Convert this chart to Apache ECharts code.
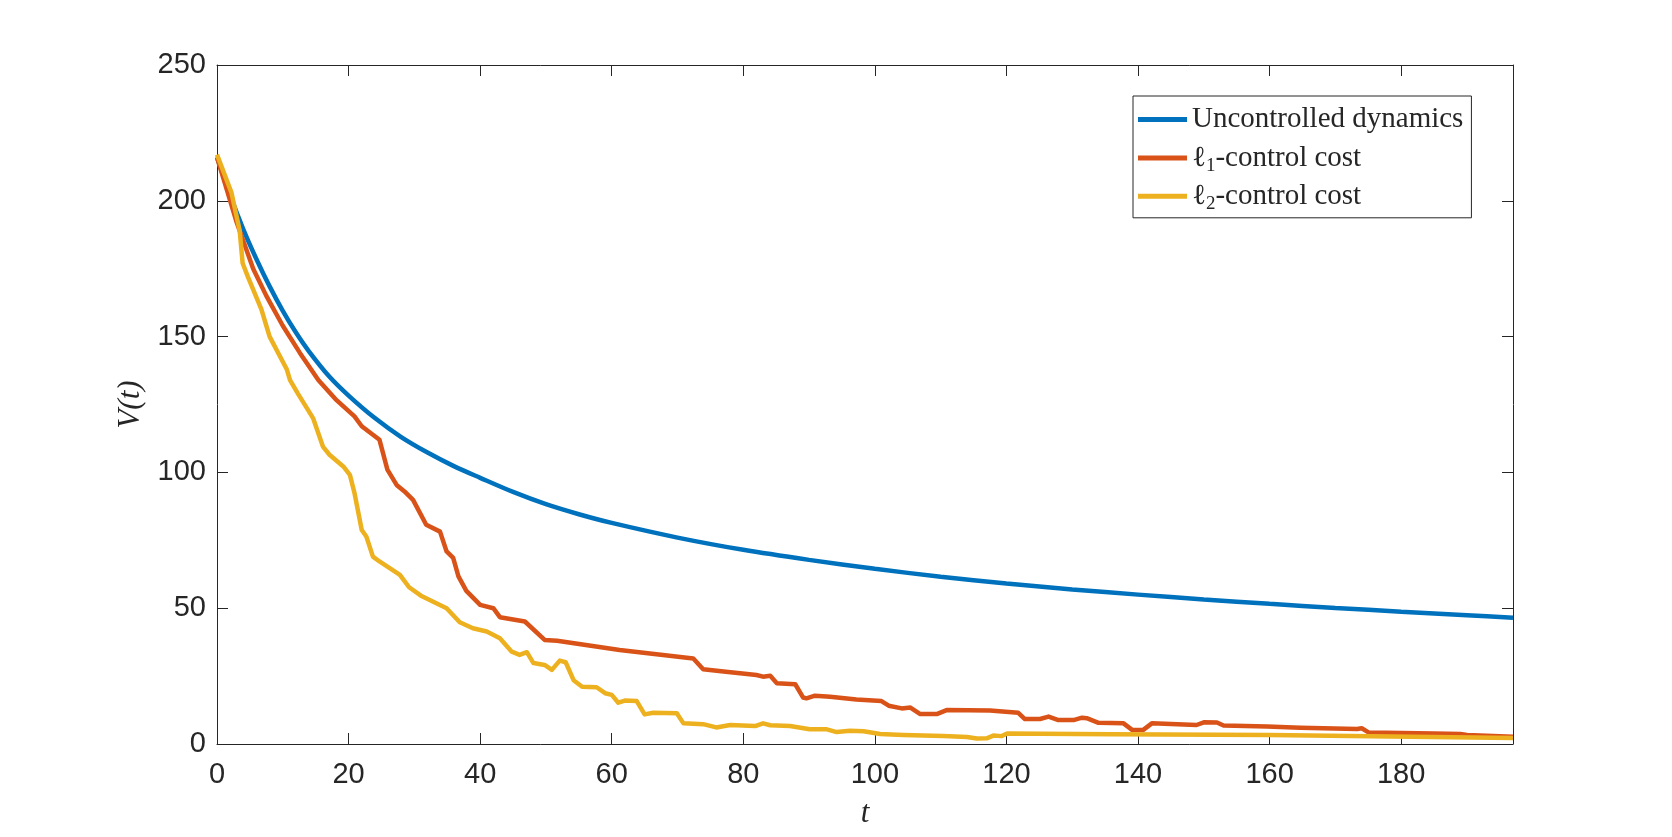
<!DOCTYPE html>
<html>
<head>
<meta charset="utf-8">
<script src="https://cdn.jsdelivr.net/npm/echarts@6/dist/echarts.min.js"></script>
<style>
html,body{margin:0;padding:0;background:#fff;}
#chart{width:1672px;height:837px;}
</style>
</head>
<body>
<div id="chart"></div>
<script>
// ---- data ----
const seriesNames = ['Uncontrolled dynamics', 'ℓ1-control cost', 'ℓ2-control cost'];
const xTicks = [0, 20, 40, 60, 80, 100, 120, 140, 160, 180];
const yTicks = [0, 50, 100, 150, 200, 250];

const uncT = [0, 2, 4, 6, 8, 10, 12, 14, 17, 20, 24, 28, 32, 36, 40, 45, 50, 55, 60, 70, 80, 90, 100, 110, 120, 130, 140, 150, 160, 170, 180, 190, 197];
const uncV = [216, 202, 189.5, 178.5, 168.5, 159.5, 151.5, 144.5, 135.5, 128.3, 120, 113, 107.3, 102.3, 98, 92.8, 88.3, 84.6, 81.4, 76, 71.5, 67.8, 64.5, 61.6, 59.1, 56.9, 55, 53.2, 51.6, 50.1, 48.7, 47.4, 46.5];

const l1T = [0, 1.5, 3, 5.5, 7.5, 10, 12.6, 15.4, 18, 20.9, 22, 24.7, 25.9, 27.3, 28.5, 29.8, 31.8, 33.9, 34.9, 35.9, 36.7, 37.9, 40, 42, 43, 46.8, 49.8, 51.7, 61.2, 72.4, 73.9, 77, 82, 83, 84.1, 85.1, 87.9, 89.1, 89.6, 90.9, 93.2, 97.2, 101, 102.1, 104.1, 105.4, 106.9, 109.4, 110.9, 117.5, 121.8, 122.8, 125.1, 126.4, 127.9, 130.2, 131.5, 132.2, 134, 137.8, 139.1, 140.8, 142.1, 148.9, 150, 152, 153, 159.6, 164.7, 173.3, 174, 175.1, 185, 189, 190, 197];
const l1V = [216, 204, 192, 175, 165, 154, 144, 134, 127, 120.6, 117, 112, 101, 95.4, 93, 89.9, 80.7, 78.2, 70.9, 68.5, 61.7, 56.4, 51.2, 50, 46.7, 45.1, 38.3, 38, 34.6, 31.5, 27.5, 26.7, 25.4, 24.8, 25.1, 22.4, 22, 17.1, 16.8, 17.8, 17.4, 16.4, 15.8, 14.1, 13.1, 13.4, 11, 11, 12.5, 12.3, 11.5, 9.2, 9.2, 10.1, 8.8, 8.8, 9.7, 9.5, 7.8, 7.6, 5.2, 5.2, 7.6, 7.0, 8.0, 7.9, 6.8, 6.4, 6.0, 5.5, 5.8, 4.2, 3.9, 3.7, 3.3, 2.7];

const l2T = [0, 2.2, 3.45, 3.9, 4.7, 6.75, 7.5, 8, 10.6, 11.1, 12.3, 14.6, 16.1, 17.1, 19.2, 20.2, 20.9, 22, 22.7, 23.7, 24.7, 27.8, 29.2, 31, 34.9, 36.9, 38.9, 41, 43, 44.8, 46, 47.1, 48.1, 49.8, 50.9, 52.1, 53, 54.2, 55.5, 57.7, 59, 60, 61, 62, 63.8, 65, 66.3, 69.9, 70.9, 73.9, 75.9, 78, 81.8, 83, 84.1, 87.1, 90.1, 92.7, 94.2, 96.2, 98.3, 100.8, 104.3, 110.4, 114, 115.5, 117, 118, 119.3, 120.1, 135.8, 160, 197];
const l2V = [217, 203, 189, 177, 172, 160, 154, 150, 138, 134, 129, 120, 109.5, 106.5, 102.2, 99.1, 92.4, 78.8, 76.4, 69, 67.2, 62.3, 57.7, 54.6, 50, 44.8, 42.6, 41.4, 38.9, 34, 32.8, 33.8, 29.8, 29.1, 27.3, 30.7, 30.1, 23.5, 21.1, 20.9, 18.7, 18.1, 15.2, 16, 15.8, 10.9, 11.5, 11.3, 7.6, 7.3, 6.1, 7.0, 6.6, 7.6, 6.9, 6.6, 5.4, 5.4, 4.4, 4.9, 4.7, 3.7, 3.3, 2.9, 2.6, 2.0, 2.1, 3.1, 2.9, 3.9, 3.6, 3.3, 2.2];

// ---- build ----
const zip = (t, v) => t.map((x, i) => [x, v[i]]);
const colors = ['#0072BD', '#D95319', '#EDB120'];
const axisColor = '#262626';
const xMax = 197;

const chart = echarts.init(document.getElementById('chart'));
function baseX() {
  return {
    type: 'value', min: xTicks[0], max: xMax, interval: xTicks[1] - xTicks[0],
    axisLine: {show: true, onZero: false, lineStyle: {color: axisColor, width: 1}},
    axisTick: {show: true, inside: true, length: 11, lineStyle: {color: axisColor}},
    splitLine: {show: false}
  };
}
function baseY() {
  return {
    type: 'value', min: yTicks[0], max: yTicks[yTicks.length - 1], interval: yTicks[1] - yTicks[0],
    axisLine: {show: true, onZero: false, lineStyle: {color: axisColor, width: 1}},
    axisTick: {show: true, inside: true, length: 11, lineStyle: {color: axisColor}},
    splitLine: {show: false}
  };
}
const labelFont = {color: axisColor, fontSize: 29, fontFamily: 'Liberation Sans, Arial, sans-serif'};
const serif = 'Liberation Serif, serif';

chart.setOption({
  backgroundColor: '#ffffff',
  animation: false,
  grid: {left: 217, right: 159, top: 65, bottom: 93, containLabel: false},
  xAxis: [
    Object.assign(baseX(), {
      position: 'bottom',
      name: 't', nameLocation: 'middle', nameGap: 54,
      nameTextStyle: {fontFamily: serif, fontStyle: 'italic', fontSize: 31, color: axisColor},
      axisLabel: Object.assign({show: true, margin: 16, showMaxLabel: false}, labelFont)
    }),
    Object.assign(baseX(), {position: 'top', axisLabel: {show: false}})
  ],
  yAxis: [
    Object.assign(baseY(), {
      position: 'left',
      name: 'V(t)', nameLocation: 'middle', nameGap: 64, nameRotate: 90,
      nameTextStyle: {fontFamily: serif, fontStyle: 'italic', fontSize: 31, color: axisColor},
      axisLabel: Object.assign({show: true, margin: 11}, labelFont)
    }),
    Object.assign(baseY(), {position: 'right', axisLabel: {show: false}})
  ],
  legend: {
    orient: 'vertical',
    left: 1133, top: 96,
    data: seriesNames,
    icon: 'rect',
    itemWidth: 49, itemHeight: 5,
    itemGap: 3.4,
    padding: [6, 8, 4, 5],
    borderColor: axisColor, borderWidth: 1,
    backgroundColor: '#ffffff',
    textStyle: {
      color: axisColor, fontSize: 29, fontFamily: serif, lineHeight: 35,
      rich: {
        a: {fontSize: 29, fontFamily: serif, color: axisColor, lineHeight: 35},
        s: {fontSize: 19, fontFamily: serif, color: axisColor, lineHeight: 9, padding: [16, 0, 0, 0]}
      }
    },
    formatter: function (name) {
      if (name === seriesNames[1]) return '{a|ℓ}{s|1}{a|-control cost}';
      if (name === seriesNames[2]) return '{a|ℓ}{s|2}{a|-control cost}';
      return '{a|' + name + '}';
    }
  },
  series: [
    {name: seriesNames[0], type: 'line', data: zip(uncT, uncV), smooth: 0.3, showSymbol: false, symbol: 'none',
     lineStyle: {color: colors[0], width: 4.5}, itemStyle: {color: colors[0]}, z: 3},
    {name: seriesNames[1], type: 'line', data: zip(l1T, l1V), showSymbol: false, symbol: 'none',
     lineStyle: {color: colors[1], width: 4.5, join: 'round'}, itemStyle: {color: colors[1]}, z: 4},
    {name: seriesNames[2], type: 'line', data: zip(l2T, l2V), showSymbol: false, symbol: 'none',
     lineStyle: {color: colors[2], width: 4.5, join: 'round'}, itemStyle: {color: colors[2]}, z: 5}
  ]
});
</script>
</body>
</html>
